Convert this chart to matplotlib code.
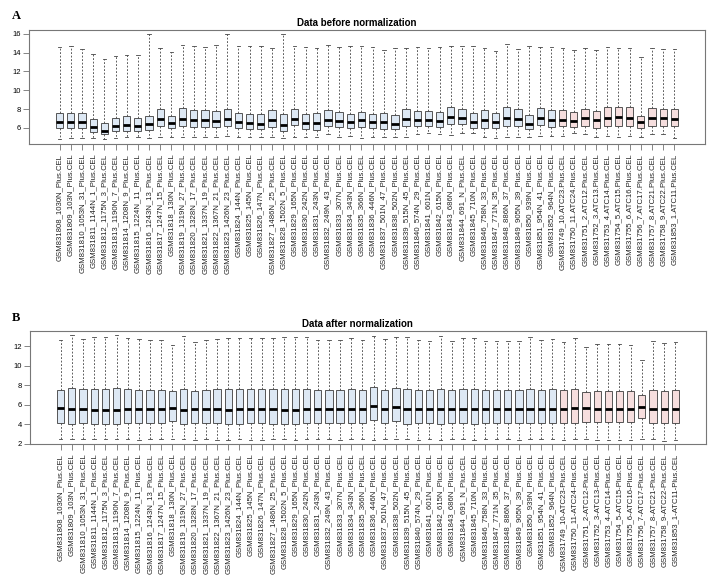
import matplotlib
matplotlib.use("Agg")
import matplotlib.pyplot as plt

plt.rcParams['font.family'] = ['Liberation Sans', 'DejaVu Sans']

# sample ids (45 normal + 11 ATC)
normal_ids = [
    "GSM831808_1030N", "GSM831809_103N", "GSM831810_1053N_31", "GSM831811_1144N_1",
    "GSM831812_1175N_3", "GSM831813_1190N_7", "GSM831814_1208N_9", "GSM831815_1224N_11",
    "GSM831816_1243N_13", "GSM831817_1247N_15", "GSM831818_130N", "GSM831819_1319N_27",
    "GSM831820_1328N_17", "GSM831821_1337N_19", "GSM831822_1367N_21", "GSM831823_1426N_23",
    "GSM831824_144N", "GSM831825_145N", "GSM831826_147N", "GSM831827_1486N_25",
    "GSM831828_1502N_5", "GSM831829_165N", "GSM831830_242N", "GSM831831_243N",
    "GSM831832_249N_43", "GSM831833_307N", "GSM831834_343N", "GSM831835_366N",
    "GSM831836_446N", "GSM831837_501N_47", "GSM831838_502N", "GSM831839_515N_45",
    "GSM831840_574N_29", "GSM831841_601N", "GSM831842_615N", "GSM831843_686N",
    "GSM831844_691_N", "GSM831845_710N", "GSM831846_758N_33", "GSM831847_771N_35",
    "GSM831848_886N_37", "GSM831849_905N_39", "GSM831850_939N", "GSM831851_954N_41",
    "GSM831852_964N",
]
atc_ids = [
    ("GSM831749", "10", "ATC23"), ("GSM831750", "11", "ATC24"), ("GSM831751", "2", "ATC12"),
    ("GSM831752", "3", "ATC13"), ("GSM831753", "4", "ATC14"), ("GSM831754", "5", "ATC15"),
    ("GSM831755", "6", "ATC16"), ("GSM831756", "7", "ATC17"), ("GSM831757", "8", "ATC21"),
    ("GSM831758", "9", "ATC22"), ("GSM831853", "1", "ATC11"),
]
labels_a = [n + "_Plus.CEL" for n in normal_ids] + [f"{g}_{i}.{a}.Plus.CEL" for g, i, a in atc_ids]
labels_b = [n + "_Plus.CEL" for n in normal_ids] + [f"{g}_{i}-{a}-Plus.CEL" for g, i, a in atc_ids]

# Panel A: before normalization (box stats)
a_hi = [14.6, 14.65, 14.4, 13.85, 13.3, 13.65, 13.75, 13.75, 16.0, 14.5,
        14.1, 14.8, 14.65, 14.6, 14.8, 16.0, 14.7, 14.65, 14.65, 14.45,
        16.0, 14.65, 14.6, 14.5, 14.8, 14.6, 14.7, 14.73, 14.6, 14.3,
        14.5, 14.5, 14.55, 14.5, 14.55, 14.73, 14.73, 14.65, 14.5, 14.2,
        14.87, 14.37, 14.65, 14.6, 14.6, 14.45, 14.23, 14.5, 14.3, 14.6,
        14.5, 14.5, 13.53, 14.5, 14.37, 14.37]
a_q3 = [7.6, 7.6, 7.6, 6.95, 6.53, 7.06, 7.27, 7.1, 7.3, 8.05,
        7.3, 8.12, 7.87, 7.9, 7.77, 8.0, 7.6, 7.48, 7.48, 7.87,
        7.48, 8.05, 7.45, 7.55, 7.94, 7.7, 7.48, 7.7, 7.52, 7.6,
        7.41, 8.0, 7.8, 7.77, 7.7, 8.23, 8.05, 7.6, 7.9, 7.6,
        8.2, 8.0, 7.41, 8.12, 7.94, 7.87, 7.73, 8.05, 7.84, 8.2,
        8.23, 8.2, 7.24, 8.12, 8.05, 8.0]
a_med = [6.63, 6.6, 6.62, 6.07, 5.72, 6.18, 6.28, 6.18, 6.39, 6.95,
         6.57, 6.95, 6.85, 6.85, 6.74, 6.95, 6.64, 6.57, 6.46, 6.81,
         6.35, 6.95, 6.57, 6.53, 6.85, 6.74, 6.64, 6.81, 6.6, 6.6,
         6.46, 6.95, 6.81, 6.81, 6.7, 7.17, 7.06, 6.6, 6.85, 6.6,
         7.02, 6.95, 6.46, 7.06, 6.88, 6.88, 6.78, 7.02, 6.81, 7.1,
         7.17, 7.1, 6.6, 7.06, 7.02, 6.92]
a_q1 = [6.0, 6.0, 6.0, 5.6, 5.36, 5.72, 5.72, 5.65, 5.82, 6.25,
        6.0, 6.25, 6.14, 6.14, 6.07, 6.25, 5.95, 5.93, 5.9, 6.14,
        5.72, 6.28, 5.85, 5.78, 6.18, 6.07, 6.0, 6.1, 5.96, 5.9,
        5.9, 6.18, 6.18, 6.18, 6.1, 6.46, 6.39, 5.96, 6.03, 6.0,
        6.18, 6.18, 5.9, 6.32, 6.1, 6.18, 6.1, 6.25, 6.03, 6.25,
        6.25, 6.25, 6.03, 6.25, 6.25, 6.18]
a_lo = [4.86, 4.93, 4.97, 4.9, 4.86, 4.97, 5.04, 5.04, 4.97, 5.04,
        5.04, 5.08, 5.08, 5.08, 5.08, 5.2, 5.08, 5.08, 5.08, 5.08,
        4.93, 5.08, 5.08, 5.08, 5.4, 5.08, 5.2, 4.97, 5.08, 5.08,
        5.08, 5.08, 5.32, 5.43, 5.32, 5.28, 5.5, 5.5, 5.08, 4.97,
        5.08, 5.08, 5.08, 5.2, 5.2, 5.2, 5.43, 5.32, 5.08, 5.2,
        5.08, 5.2, 5.08, 5.32, 5.32, 4.97]

# Panel B: after normalization
b_hi = [12.58, 13.16, 12.75, 12.92, 12.92, 13.16, 12.82, 12.75, 12.62, 12.62,
        12.14, 13.03, 12.38, 12.65, 12.75, 12.82, 12.82, 12.82, 12.82, 12.82,
        12.92, 12.95, 12.92, 12.65, 12.65, 12.65, 12.82, 12.62, 13.03, 12.75,
        12.92, 12.92, 12.62, 12.55, 13.03, 12.48, 12.82, 12.82, 12.55, 12.55,
        12.55, 12.55, 12.92, 12.65, 12.72, 12.38, 12.79, 11.93, 12.17, 12.24,
        12.24, 12.14, 10.6, 12.48, 12.27, 12.41]
b_q3 = [7.51, 7.72, 7.58, 7.62, 7.62, 7.68, 7.62, 7.55, 7.51, 7.51,
        7.45, 7.62, 7.45, 7.55, 7.58, 7.62, 7.62, 7.62, 7.62, 7.58,
        7.62, 7.62, 7.62, 7.51, 7.51, 7.55, 7.62, 7.51, 7.82, 7.55,
        7.72, 7.62, 7.51, 7.51, 7.62, 7.51, 7.58, 7.62, 7.55, 7.51,
        7.51, 7.51, 7.62, 7.55, 7.58, 7.48, 7.62, 7.31, 7.38, 7.38,
        7.38, 7.38, 6.97, 7.48, 7.45, 7.48]
b_med = [5.63, 5.56, 5.56, 5.49, 5.49, 5.49, 5.53, 5.56, 5.6, 5.53,
         5.7, 5.49, 5.56, 5.56, 5.56, 5.49, 5.53, 5.6, 5.56, 5.53,
         5.49, 5.49, 5.6, 5.56, 5.53, 5.6, 5.6, 5.6, 5.84, 5.6,
         5.73, 5.53, 5.56, 5.6, 5.53, 5.56, 5.56, 5.56, 5.6, 5.6,
         5.56, 5.6, 5.56, 5.56, 5.56, 5.6, 5.63, 5.66, 5.6, 5.6,
         5.6, 5.6, 5.77, 5.56, 5.56, 5.56]
b_q1 = [4.12, 4.05, 4.12, 4.05, 4.05, 4.02, 4.09, 4.12, 4.12, 4.09,
        4.33, 4.02, 4.12, 4.12, 4.09, 4.02, 4.05, 4.12, 4.12, 4.05,
        4.02, 4.02, 4.09, 4.09, 4.09, 4.12, 4.12, 4.12, 4.4, 4.12,
        4.29, 4.05, 4.09, 4.09, 4.02, 4.09, 4.09, 4.05, 4.09, 4.12,
        4.12, 4.12, 4.09, 4.12, 4.12, 4.12, 4.12, 4.26, 4.23, 4.23,
        4.23, 4.23, 4.6, 4.12, 4.12, 4.12]
b_lo = [2.48, 2.48, 2.45, 2.45, 2.48, 2.45, 2.48, 2.42, 2.45, 2.45,
        2.5, 2.45, 2.42, 2.5, 2.42, 2.42, 2.45, 2.42, 2.42, 2.45,
        2.45, 2.42, 2.45, 2.45, 2.45, 2.42, 2.45, 2.45, 2.42, 2.48,
        2.48, 2.45, 2.42, 2.45, 2.42, 2.45, 2.45, 2.42, 2.45, 2.45,
        2.45, 2.42, 2.45, 2.45, 2.45, 2.42, 2.48, 2.45, 2.42, 2.42,
        2.42, 2.42, 2.45, 2.45, 2.32, 2.42]

n_normal = len(normal_ids)
fill_normal = "#dde8f4"
fill_atc = "#f6dede"


def draw_panel(ax, lo, q1, med, q3, hi, labels, title, ylim, yticks):
    stats = [dict(whislo=a, q1=b, med=c, q3=d, whishi=e, fliers=[])
             for a, b, c, d, e in zip(lo, q1, med, q3, hi)]
    n = len(stats)
    pos = list(range(1, n + 1))
    bp = ax.bxp(stats, positions=pos, widths=0.65, capwidths=0.32,
                patch_artist=True, showfliers=False,
                boxprops=dict(edgecolor="#555555", linewidth=0.7),
                medianprops=dict(color="black", linewidth=2.0, solid_capstyle="butt"),
                whiskerprops=dict(color="#444444", linewidth=0.6, linestyle=(0, (2.2, 2.0))),
                capprops=dict(color="#444444", linewidth=0.6))
    for i, b in enumerate(bp["boxes"]):
        b.set_facecolor(fill_normal if i < n_normal else fill_atc)
    ax.set_xlim(0.5 - 0.04 * n, n + 0.5 + 0.04 * n)
    ax.set_ylim(*ylim)
    ax.set_yticks(yticks)
    ax.set_xticks(pos)
    ax.set_xticklabels(labels, rotation=90, fontsize=5.6, color="#222222")
    ax.tick_params(axis="x", length=4, width=0.5, color="#555555", pad=3)
    ax.tick_params(axis="y", length=4, width=0.5, color="#555555", labelsize=5.5, pad=2)
    for s in ax.spines.values():
        s.set_color("#777777")
        s.set_linewidth(0.8)
    ax.set_title(title, fontsize=7, fontweight="bold", pad=3, x=0.485)


fig = plt.figure(figsize=(7.13, 5.82), dpi=100)
ax_a = fig.add_axes([29 / 713, 1 - 144 / 582, 676 / 713, 114 / 582])
ax_b = fig.add_axes([30 / 713, 1 - 444 / 582, 676 / 713, 113 / 582])

draw_panel(ax_a, a_lo, a_q1, a_med, a_q3, a_hi, labels_a,
           "Data before normalization", (4.3, 16.4), [6, 8, 10, 12, 14, 16])
draw_panel(ax_b, b_lo, b_q1, b_med, b_q3, b_hi, labels_b,
           "Data after normalization", (1.97, 13.55), [2, 4, 6, 8, 10, 12])

fig.text(12 / 713, 1 - 16 / 582, "A", fontsize=9, fontweight="bold",
         family=["Liberation Serif", "DejaVu Serif"], va="center")
fig.text(12 / 713, 1 - 318 / 582, "B", fontsize=9, fontweight="bold",
         family=["Liberation Serif", "DejaVu Serif"], va="center")

fig.savefig("out.png", dpi=100)
